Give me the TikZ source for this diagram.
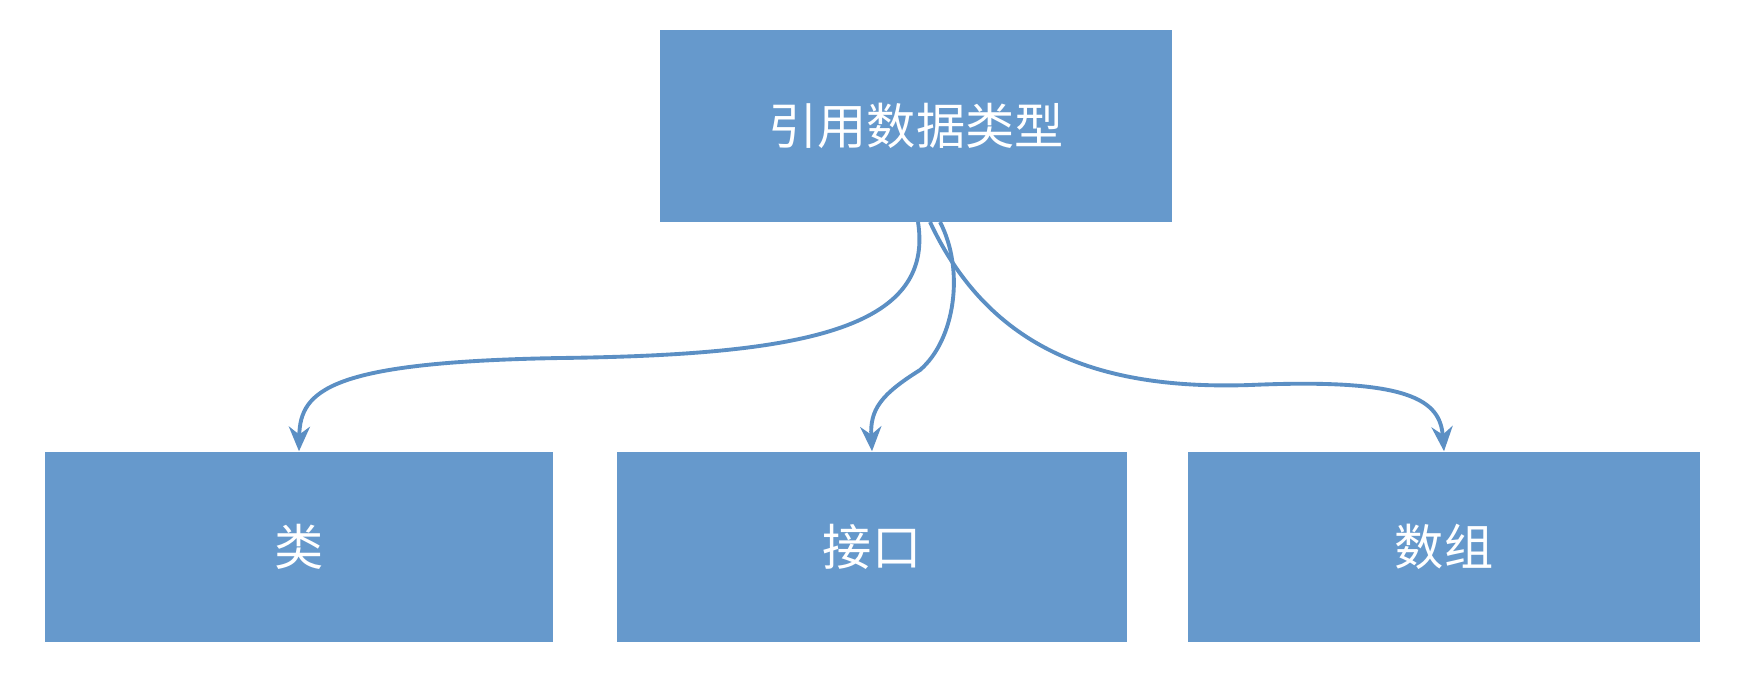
\documentclass[tikz,border=0pt]{standalone}
\usepackage{fontspec}
\newfontfamily\cjk{Noto Sans CJK SC}
\usetikzlibrary{arrows.meta}
\definecolor{boxblue}{HTML}{6699CC}
\definecolor{linkblue}{HTML}{5B8FC4}
\begin{document}
\begin{tikzpicture}[x=0.01cm,y=-0.01cm,
  blk/.style={fill=boxblue,draw=none,text=white,font=\cjk\fontsize{14}{16}\selectfont,inner sep=0pt},
  link/.style={draw=linkblue,line width=1.1pt,-{Stealth[length=7pt,width=6pt]}}]
\useasboundingbox (0,0) rectangle (1742,684);
\fill[white] (0,0) rectangle (1742,684);
\node[blk,minimum width=5.12cm,minimum height=1.92cm] (top) at (916,126) {引用数据类型};
\node[blk,minimum width=5.08cm,minimum height=1.9cm] (a) at (299,547) {类};
\node[blk,minimum width=5.10cm,minimum height=1.9cm] (b) at (872,547) {接口};
\node[blk,minimum width=5.12cm,minimum height=1.9cm] (c) at (1444,547) {数组};
\coordinate (s1) at (918,222);
\coordinate (s2) at (940,222);
\coordinate (s3) at (930,222);
\draw[link] (s1) .. controls (935,330) and (800,355) .. (560,358) .. controls (330,362) and (300,390) .. (a.north);
\draw[link] (s2) .. controls (965,270) and (955,340) .. (920,370) .. controls (880,395) and (870,410) .. (b.north);
\draw[link] (s3) .. controls (990,350) and (1100,390) .. (1250,385) .. controls (1410,378) and (1440,400) .. (c.north);
\end{tikzpicture}
\end{document}
